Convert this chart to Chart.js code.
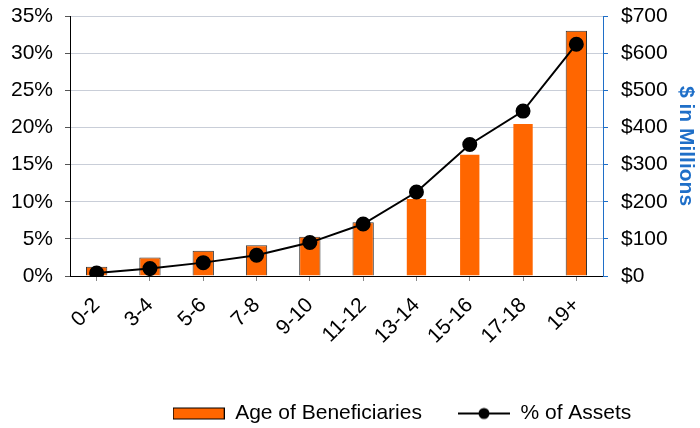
<!DOCTYPE html>
<html>
<head>
<meta charset="utf-8">
<script src="https://cdn.jsdelivr.net/npm/chart.js@4/dist/chart.umd.min.js"></script>
<style>
  html, body { margin: 0; padding: 0; background: #fff; }
  canvas { display: block; }
</style>
</head>
<body>
<canvas id="chart" width="700" height="428"></canvas>
<script>
// Age bands of beneficiaries
const categories = ['0-2', '3-4', '5-6', '7-8', '9-10', '11-12', '13-14', '15-16', '17-18', '19+'];
// Assets by age band, $ in millions (right axis)
const assetsMillions = [25, 50, 68, 83, 106, 145, 210, 329, 412, 660];
// Share of total assets, percent (left axis)
const pctOfAssets = [0.4, 1.0, 1.8, 2.8, 4.5, 7.0, 11.3, 17.7, 22.2, 31.2];
// Axis tick values
const pctTicks = [0, 5, 10, 15, 20, 25, 30, 35];
const dollarTicks = [0, 100, 200, 300, 400, 500, 600, 700];

const ORANGE = '#FF6600';
const BLUE = '#1F6FC8';
const GRID = '#C9CED8';
const FONT = "'Liberation Sans', Arial, sans-serif";

// Legend swatches: filled box for the bars, line with dot for the series
function swatch(kind) {
  const c = document.createElement('canvas');
  c.width = 52; c.height = 14;
  const g = c.getContext('2d');
  if (kind === 'bar') {
    g.fillStyle = ORANGE;
    g.fillRect(0.5, 1.5, 51, 11);
    g.strokeStyle = '#000';
    g.lineWidth = 1;
    g.strokeRect(0.5, 1.5, 51, 11);
  } else {
    g.strokeStyle = '#000';
    g.lineWidth = 2;
    g.beginPath(); g.moveTo(0, 7); g.lineTo(52, 7); g.stroke();
    g.fillStyle = '#000';
    g.beginPath(); g.arc(26, 7, 5.5, 0, Math.PI * 2); g.fill();
  }
  return c;
}

// Nudge the legend row to the right of centre and a little lower
const legendOffset = {
  id: 'legendOffset',
  afterLayout(chart) {
    const lg = chart.legend;
    if (!lg) return;
    lg.left += 52; lg.right += 52;
    lg.top += 6; lg.bottom += 6;
  }
};

// Vertical axes: no extra room reserved above/below for the end labels
const noEndPadding = s => { s.paddingTop = 0; s.paddingBottom = 0; };

new Chart(document.getElementById('chart'), {
  data: {
    labels: categories,
    datasets: [
      {
        type: 'line',
        label: '% of Assets',
        data: pctOfAssets,
        yAxisID: 'yPct',
        borderColor: '#000',
        backgroundColor: '#000',
        borderWidth: 2,
        pointRadius: 6.5,
        pointHoverRadius: 6.5,
        pointBackgroundColor: '#000',
        tension: 0,
        order: 0
      },
      {
        type: 'bar',
        label: 'Age of Beneficiaries',
        data: assetsMillions,
        yAxisID: 'yDollar',
        backgroundColor: ORANGE,
        borderColor: ['#333', '#333', '#333', '#333', '#333', '#333',
                      'rgba(0,0,0,0)', 'rgba(0,0,0,0)', 'rgba(0,0,0,0)', '#333'],
        borderWidth: { top: 1, left: 1, right: 1, bottom: 0 },
        borderSkipped: 'bottom',
        barPercentage: 0.4,
        categoryPercentage: 1.0,
        order: 1
      }
    ]
  },
  plugins: [legendOffset],
  options: {
    responsive: false,
    animation: false,
    layout: { autoPadding: false, padding: { top: 16, right: 0, left: 0, bottom: 0 } },
    plugins: {
      tooltip: { enabled: false },
      legend: {
        position: 'bottom',
        labels: {
          usePointStyle: true,
          pointStyleWidth: 52,
          boxHeight: 14,
          padding: 36,
          color: '#000',
          font: { family: FONT, size: 21 },
          generateLabels: () => [
            { text: 'Age of Beneficiaries', pointStyle: swatch('bar'), fillStyle: ORANGE, strokeStyle: '#000', lineWidth: 0, hidden: false, datasetIndex: 1 },
            { text: '% of Assets', pointStyle: swatch('line'), fillStyle: '#000', strokeStyle: '#000', lineWidth: 0, hidden: false, datasetIndex: 0 }
          ]
        }
      }
    },
    scales: {
      x: {
        type: 'category',
        offset: true,
        grid: {
          offset: false,
          drawOnChartArea: false,
          drawTicks: true,
          tickLength: 5,
          tickColor: '#888'
        },
        border: { color: '#000', width: 1 },
        ticks: {
          color: '#000',
          font: { family: FONT, size: 21 },
          minRotation: 45,
          maxRotation: 45,
          padding: 12,
          autoSkip: false
        },
        afterFit: s => { s.height = 85; }
      },
      yPct: {
        type: 'linear',
        position: 'left',
        min: 0,
        max: 35,
        afterBuildTicks: s => { s.ticks = pctTicks.map(v => ({ value: v })); },
        grid: {
          color: GRID,
          lineWidth: 1,
          tickLength: 5,
          tickColor: '#555'
        },
        border: { color: '#000', width: 1 },
        ticks: {
          color: '#000',
          font: { family: FONT, size: 21 },
          padding: 12,
          callback: v => v + '%'
        },
        afterFit: s => { s.width = 70; noEndPadding(s); }
      },
      yDollar: {
        type: 'linear',
        position: 'right',
        min: 0,
        max: 700,
        afterBuildTicks: s => { s.ticks = dollarTicks.map(v => ({ value: v })); },
        grid: {
          drawOnChartArea: false,
          tickLength: 5,
          tickColor: BLUE
        },
        border: { color: BLUE, width: 1 },
        ticks: {
          color: '#000',
          font: { family: FONT, size: 21 },
          padding: 13,
          callback: v => '$' + v
        },
        title: {
          display: true,
          text: '$ in Millions',
          color: BLUE,
          font: { family: FONT, size: 21, weight: 'bold' },
          padding: { top: 2, bottom: 1 }
        },
        afterFit: s => { s.width = 97; noEndPadding(s); }
      }
    }
  }
});
</script>
</body>
</html>
